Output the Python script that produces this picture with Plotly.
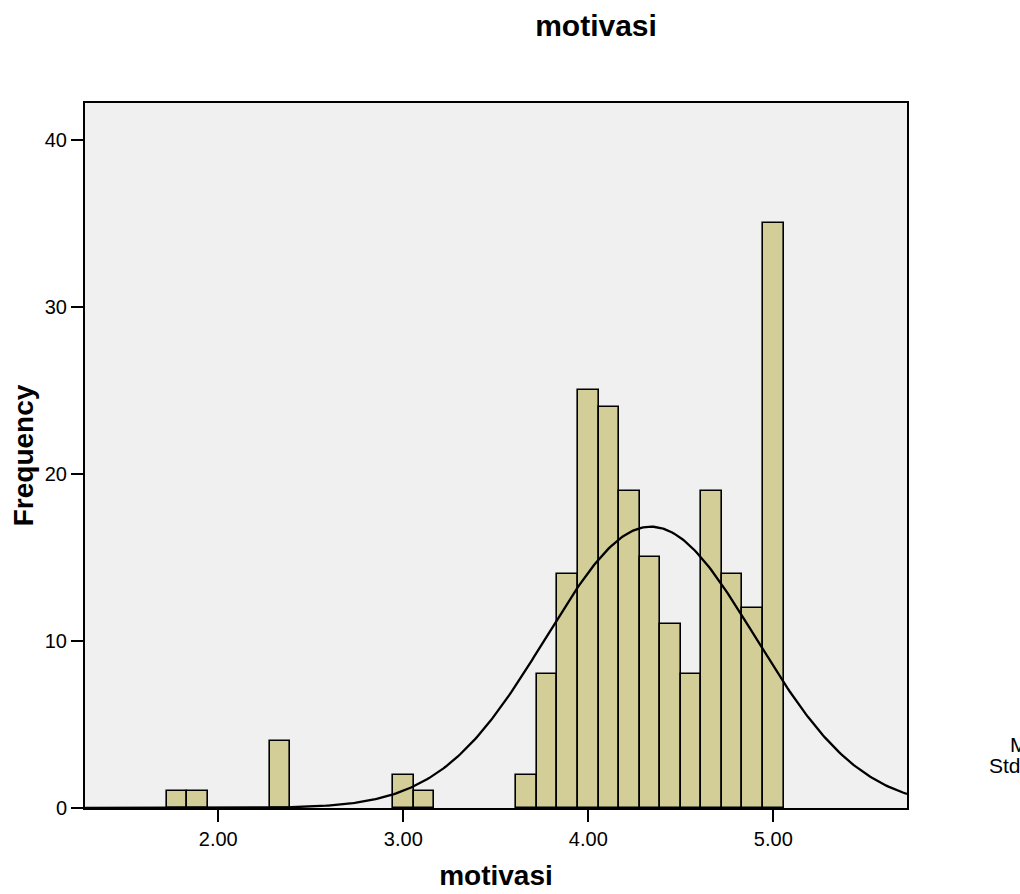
import numpy as np
import plotly.graph_objects as go

# Histogram of "motivasi" scores (bin width 1/9), with a fitted normal curve
bin_width = 1 / 9
bin_centers = [16/9, 17/9, 21/9, 27/9, 28/9, 33/9, 34/9, 35/9, 36/9, 37/9,
               38/9, 39/9, 40/9, 41/9, 42/9, 43/9, 44/9, 45/9]
frequencies = [1, 1, 4, 2, 1, 2, 8, 14, 25, 24,
               19, 15, 11, 8, 19, 14, 12, 35]

x_tick_values = [2, 3, 4, 5]
x_tick_labels = ["2.00", "3.00", "4.00", "5.00"]
y_tick_values = [0, 10, 20, 30, 40]

# Summary statistics computed from the binned data
values = np.repeat(np.array(bin_centers), frequencies)
n_obs = int(values.size)
mean = float(values.mean())
sd = float(values.std(ddof=1))

x_range = [1.2795, 5.7227]
curve_x = np.linspace(x_range[0], x_range[1], 400)
curve_y = n_obs * bin_width / (sd * np.sqrt(2 * np.pi)) * np.exp(-0.5 * ((curve_x - mean) / sd) ** 2)

FONT = "Liberation Sans, Arial, sans-serif"

fig = go.Figure()
fig.add_trace(go.Bar(
    x=bin_centers, y=frequencies, width=bin_width,
    marker=dict(color="#D3CE97", line=dict(color="black", width=1.6)),
    showlegend=False, hoverinfo="x+y",
))
fig.add_trace(go.Scatter(
    x=curve_x, y=curve_y, mode="lines",
    line=dict(color="black", width=2.3), showlegend=False, hoverinfo="skip",
))

fig.update_layout(
    width=1020, height=894,
    margin=dict(l=85, r=113, t=103, b=86),
    paper_bgcolor="white", plot_bgcolor="#F0F0F0",
    font=dict(family=FONT, color="black", size=20),
    bargap=0,
    title=dict(text="motivasi", x=596/1020, xanchor="center", xref="container",
               y=1 - 25/894, yanchor="middle",
               font=dict(family=FONT, size=30, weight="bold", color="black")),
    xaxis=dict(
        range=x_range, tickvals=x_tick_values, ticktext=x_tick_labels,
        ticks="outside", ticklen=12, tickwidth=2, tickcolor="black",
        showline=True, linecolor="black", linewidth=2, mirror=True,
        showgrid=False, zeroline=False, automargin=False,
        tickfont=dict(family=FONT, size=20, color="black"),
        title=dict(text="motivasi", standoff=16,
                   font=dict(family=FONT, size=28, weight="bold", color="black")),
    ),
    yaxis=dict(
        range=[0, 42.2], tickvals=y_tick_values,
        ticks="outside", ticklen=12, tickwidth=2, tickcolor="black",
        showline=True, linecolor="black", linewidth=2, mirror=True,
        showgrid=False, zeroline=False, automargin=False,
        tickfont=dict(family=FONT, size=20, color="black"),
        title=dict(text="Frequency", standoff=3,
                   font=dict(family=FONT, size=28, weight="bold", color="black")),
    ),
)

# Summary statistics block, centred lines to the right of the plot
stat_lines = [f"Mean ={mean:.2f}", f"Std. Dev. ={sd:.3f}"]
for i, line in enumerate(stat_lines):
    fig.add_annotation(
        text=line, xref="paper", yref="paper",
        x=(1066 - 85) / 822, y=(808 - 744 - 21 * i) / 705,
        xanchor="center", yanchor="middle", showarrow=False,
        font=dict(family=FONT, size=21, color="black"),
    )

fig.write_html("out.html")
